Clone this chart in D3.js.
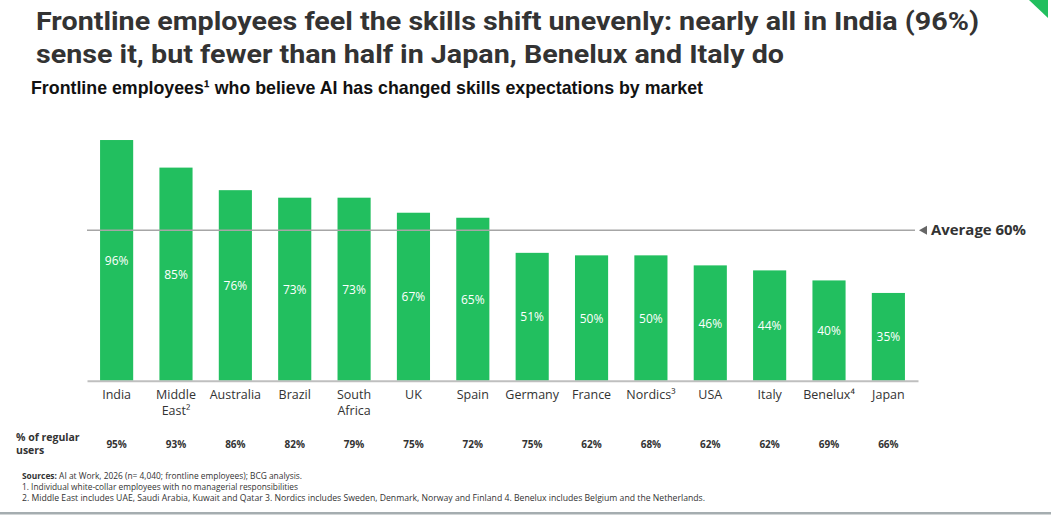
<!DOCTYPE html>
<html>
<head>
<meta charset="utf-8">
<script src="https://cdn.jsdelivr.net/npm/d3@7"></script>
<style>
  html, body { margin: 0; padding: 0; background: #fff; }
  svg { display: block; }
</style>
</head>
<body>
<svg id="chart" width="1051" height="519"></svg>
<script>
// ---- data ----
const categories = ["India", "Middle East", "Australia", "Brazil", "South Africa", "UK", "Spain",
                    "Germany", "France", "Nordics", "USA", "Italy", "Benelux", "Japan"];
const labelLines = [["India"], ["Middle", "East²"], ["Australia"], ["Brazil"], ["South", "Africa"], ["UK"], ["Spain"],
                    ["Germany"], ["France"], ["Nordics³"], ["USA"], ["Italy"], ["Benelux⁴"], ["Japan"]];
const believeValues = [96, 85, 76, 73, 73, 67, 65, 51, 50, 50, 46, 44, 40, 35];
const regularUsers = [95, 93, 86, 82, 79, 75, 72, 75, 62, 68, 62, 62, 69, 66];
const averageValue = 60;
const titleLines = ["Frontline employees feel the skills shift unevenly: nearly all in India (96%)",
                    "sense it, but fewer than half in Japan, Benelux and Italy do"];
const subtitle = "Frontline employees¹ who believe AI has changed skills expectations by market";
const footnotes = [
  ["Sources:", " AI at Work, 2026 (n= 4,040; frontline employees); BCG analysis."],
  ["", "1. Individual white-collar employees with no managerial responsibilities"],
  ["", "2. Middle East includes UAE, Saudi Arabia, Kuwait and Qatar 3. Nordics includes Sweden, Denmark, Norway and Finland 4. Benelux includes Belgium and the Netherlands."]
];

// ---- layout ----
const svg = d3.select("#chart");
const green = "#22bf5f";

const x = d3.scaleBand().domain(categories).range([87, 918]).paddingInner(0.442).paddingOuter(0.22);
const y = d3.scaleLinear().domain([0, 100]).range([380.7, 130]);

// corner triangle
svg.append("path").attr("d", "M1029,0 L1048,0 L1048,18 Z").attr("fill", green);

// title
const titleWidths = [943, 748];
titleLines.forEach((t, i) => {
  svg.append("text")
    .attr("x", 36).attr("y", 29.5 + i * 33)
    .attr("font-family", "'Liberation Sans Narrow', Roboto, sans-serif")
    .attr("font-weight", 700)
    .attr("font-size", 26.5)
    .attr("fill", "#333")
    .attr("textLength", titleWidths[i])
    .attr("lengthAdjust", "spacingAndGlyphs")
    .text(t);
});
svg.append("text")
  .attr("x", 31).attr("y", 93.5)
  .attr("font-family", "'Liberation Sans', Arial, sans-serif")
  .attr("font-weight", 700)
  .attr("font-size", 18.5)
  .attr("fill", "#111")
  .attr("textLength", 672)
  .attr("lengthAdjust", "spacingAndGlyphs")
  .text(subtitle);

// bars
svg.append("g").selectAll("rect")
  .data(categories)
  .join("rect")
  .attr("x", d => x(d))
  .attr("width", x.bandwidth())
  .attr("y", (d, i) => y(believeValues[i]))
  .attr("height", (d, i) => y(0) - y(believeValues[i]))
  .attr("fill", green);

// average line
const ay = y(averageValue);
svg.append("line")
  .attr("x1", 87).attr("x2", 915)
  .attr("y1", ay).attr("y2", ay)
  .attr("stroke", "#a6a6a6").attr("stroke-width", 1.6);
svg.append("path")
  .attr("d", `M919,${ay} L927,${ay - 4.5} L927,${ay + 4.5} Z`)
  .attr("fill", "#666");
svg.append("text")
  .attr("x", 931).attr("y", ay + 5)
  .attr("font-family", "'Open Sans', 'Noto Sans', sans-serif")
  .attr("font-weight", 700)
  .attr("font-size", 14)
  .attr("fill", "#333")
  .attr("textLength", 95)
  .attr("lengthAdjust", "spacingAndGlyphs")
  .text(`Average ${averageValue}%`);

// value labels inside bars
svg.append("g").selectAll("text")
  .data(categories)
  .join("text")
  .attr("x", d => x(d) + x.bandwidth() / 2)
  .attr("y", (d, i) => (y(believeValues[i]) + y(0)) / 2 + 4.5)
  .attr("text-anchor", "middle")
  .attr("font-family", "'Open Sans', 'DejaVu Sans', sans-serif")
  .attr("font-weight", 500)
  .attr("font-size", 12)
  .attr("fill", "#fff")
  .text((d, i) => believeValues[i] + "%");

// x axis
const xAxis = d3.axisBottom(x).tickSize(0).tickFormat("");
const axG = svg.append("g").attr("transform", `translate(0,${y(0)})`).call(xAxis);
axG.select(".domain").attr("stroke", "#bfbfbf").attr("stroke-width", 2);

// category labels
const catG = svg.append("g");
categories.forEach((c, i) => {
  const cx = x(c) + x.bandwidth() / 2;
  const t = catG.append("text")
    .attr("x", cx)
    .attr("y", 398.5)
    .attr("text-anchor", "middle")
    .attr("font-family", "'Open Sans', 'Noto Sans', sans-serif")
    .attr("font-size", 12.5)
    .attr("fill", "#333");
  labelLines[i].forEach((ln, j) => {
    t.append("tspan").attr("x", cx).attr("dy", j === 0 ? 0 : 16).text(ln);
  });
});

// % of regular users row
const rowLabel = svg.append("text")
  .attr("x", 16).attr("y", 440.5)
  .attr("font-family", "'Open Sans', 'Noto Sans', sans-serif")
  .attr("font-weight", 700)
  .attr("font-size", 10.5)
  .attr("fill", "#333");
rowLabel.append("tspan").attr("x", 16).attr("dy", 0).text("% of regular");
rowLabel.append("tspan").attr("x", 16).attr("dy", 13.5).text("users");

svg.append("g").selectAll("text")
  .data(categories)
  .join("text")
  .attr("x", d => x(d) + x.bandwidth() / 2)
  .attr("y", 447.5)
  .attr("text-anchor", "middle")
  .attr("font-family", "'Open Sans', 'Noto Sans', sans-serif")
  .attr("font-weight", 700)
  .attr("font-size", 10)
  .attr("fill", "#333")
  .text((d, i) => regularUsers[i] + "%");

// footnotes
const footWidths = [280, 276, 683];
footnotes.forEach((f, i) => {
  const t = svg.append("text")
    .attr("x", 22).attr("y", 479 + i * 11)
    .attr("font-family", "'Open Sans', 'Noto Sans', sans-serif")
    .attr("font-size", 8.4)
    .attr("fill", "#333")
    .attr("textLength", footWidths[i])
    .attr("lengthAdjust", "spacingAndGlyphs");
  if (f[0]) t.append("tspan").attr("font-weight", 700).text(f[0]);
  t.append("tspan").text(f[1]);
});

// bottom edge strip
svg.append("rect").attr("x", 0).attr("y", 512).attr("width", 1051).attr("height", 2.5).attr("fill", "#4c5b62").attr("opacity", 0.5);
</script>
</body>
</html>
